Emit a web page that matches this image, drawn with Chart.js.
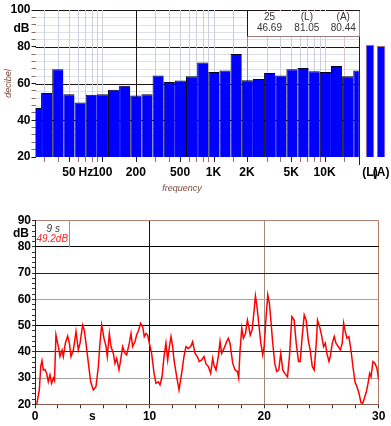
<!DOCTYPE html>
<html><head><meta charset="utf-8">
<script src="https://cdn.jsdelivr.net/npm/chart.js@4/dist/chart.umd.min.js"></script>
<style>
html,body{margin:0;padding:0;background:#fff;width:391px;height:426px;overflow:hidden}
#c1{position:absolute;left:0;top:0}
#c2{position:absolute;left:0;top:200px}
</style></head><body>
<canvas id="c1" width="391" height="200"></canvas>
<canvas id="c2" width="391" height="226"></canvas>
<script>
// ---------- data: 1/3 octave spectrum ----------
const bandLabels = ['25','31.5','40','50','63','80','100','125','160','200','250','315','400','500','630','800','1K','1.25K','1.6K','2K','2.5K','3.15K','4K','5K','6.3K','8K','10K','12.5K','16K','20K'];
const bandLevels = [46.69,54.8,67.8,54.1,49.7,53.9,54.1,56.6,58.8,53.5,54.1,64.4,60.8,61.7,64.0,71.4,66.2,67.1,76.0,61.8,62.4,65.7,64.4,67.8,68.4,66.7,66.2,69.5,63.9,67.1];
const totalLabels = ['(L)','(A)'];
const totalLevels = [81.05, 80.44];
const freqAxisLabels = ['50','Hz','100','200','500','1K','2K','5K','10K'];
const freqAxisValues = [50, 71, 100, 200, 500, 1000, 2000, 5000, 10000];
const gridFreqs = [30,40,50,60,70,80,90,100,200,300,400,500,600,700,800,900,1000,1500,2000,3000,4000,5000,6000,7000,8000,9000,10000,15000];
const cursorInfo = {band:'25', value:'46.69', L:'81.05', A:'80.44'};

// ---------- data: level vs time ----------
const timeSec = [0.15,0.38,0.5,0.61,0.73,0.87,1.02,1.16,1.31,1.45,1.6,1.7,1.83,2.04,2.18,2.36,2.47,2.65,2.85,3.0,3.14,3.35,3.58,3.78,3.93,4.16,4.3,4.45,4.66,4.86,5.09,5.32,5.53,5.67,5.82,6.02,6.2,6.31,6.49,6.63,6.84,6.98,7.13,7.33,7.48,7.65,7.86,8.0,8.23,8.38,8.52,8.73,8.87,9.05,9.22,9.4,9.54,9.69,9.83,9.98,10.18,10.39,10.56,10.77,10.91,11.09,11.26,11.43,11.58,11.73,11.87,12.02,12.13,12.37,12.57,12.8,13.0,13.18,13.38,13.59,13.76,13.97,14.17,14.34,14.55,14.75,14.93,15.13,15.33,15.51,15.62,15.8,16.0,16.15,16.29,16.5,16.73,16.88,17.02,17.26,17.46,17.67,17.78,17.9,18.05,18.19,18.37,18.54,18.66,18.78,18.95,19.13,19.24,19.36,19.53,19.71,19.88,20.0,20.17,20.32,20.46,20.61,20.75,20.93,21.1,21.28,21.45,21.63,21.8,22.04,22.21,22.42,22.62,22.8,23.0,23.15,23.32,23.5,23.67,23.85,24.02,24.2,24.37,24.55,24.66,24.84,25.01,25.19,25.34,25.48,25.66,25.77,25.95,26.12,26.27,26.47,26.65,26.82,26.94,27.08,27.23,27.4,27.58,27.75,27.93,28.1,28.28,28.45,28.6,28.75,28.92,29.07,29.21,29.33,29.5,29.68,29.85,30.0];
const levelDb = [20,25.5,34.4,36.6,33.1,33.3,31.8,28.6,31.2,28,30,29,46.4,42,38.2,40.7,38.2,43.3,46,43.3,38.2,40.7,47.7,40.7,43.3,50.2,48.3,43.3,35.6,28.6,25.5,26.7,34.4,43.3,50.2,45.2,42,38.2,47,42,39.4,35.6,37.5,33.1,36.9,42,39.4,38.8,43.3,47,42,43.9,46.4,48.3,50.9,49.6,45.8,47,46.4,43.3,39.4,31.8,28,28.6,27.4,30.5,38.2,43.3,36.9,42,45.8,42,36.9,30.5,25.5,31.8,38.2,42,41.3,42,43.9,39.4,38.2,36.3,36.9,38.2,35.4,34.4,31.8,37.5,35,33.1,38.2,43.9,39.4,41.3,43.9,45.2,43.3,35.6,33.1,32.5,30,40.7,49,45.2,47,52.1,49.6,46.4,48.3,56,61.3,57.9,50.9,43.3,38.8,42,53.4,61.7,58.5,50.9,43.3,35.6,32.5,33.1,39.4,33.1,31.8,30.5,38.2,53.4,52.1,43.3,36.3,36.3,45.8,54.1,52.1,44.5,40.7,34.4,33.1,43.3,52.1,49.6,46.4,42,43.3,39.4,36.3,38.2,43.3,45.8,43.3,42,40.7,43.3,50.9,47.7,45.2,45.8,40.7,34.4,28.6,26.7,24.2,20.6,20.4,22.3,24.8,28,31.8,30.5,36.3,35.6,33.7,29.3];
const timeTicks = [0,2,4,5,6,8,10,12,14,16,18,20,22,24,26,28,30];
const timeTickLabels = {0:'0',5:'s',10:'10',20:'20',30:'30'};
const cursorTime = {time:'9 s', value:'49.2dB'};

Chart.defaults.font.family = "'Liberation Sans', Arial, sans-serif";
const fToIdx = f => 3 * Math.log2(f / 25);
const px = v => Math.round(v) + 0.5;

// ---------- top chart ----------
const topDecor = {
  id: 'topDecor',
  beforeDatasetsDraw(chart) {
    const {ctx, chartArea: a, scales: {x, y}} = chart;
    const right = px(x.getPixelForValue(bandLevels.length - 1));
    ctx.save();
    ctx.lineWidth = 1;
    for (let v = 24; v <= 100; v += 4) {
      const yy = px(y.getPixelForValue(v));
      ctx.strokeStyle = (v % 20 === 0) ? '#1e1414' : '#dde1e8';
      ctx.beginPath(); ctx.moveTo(a.left, yy); ctx.lineTo(right, yy); ctx.stroke();
    }
    gridFreqs.forEach(f => {
      const xx = px(x.getPixelForValue(fToIdx(f)));
      let c = '#c9d1dc';
      if (f === 200) c = '#1e1414';
      else if (f === 2000) c = '#a88a8a';
      else if (f === 1500 || f === 3000 || f === 15000) c = '#dcc6c6';
      ctx.strokeStyle = c;
      ctx.beginPath(); ctx.moveTo(xx, a.top); ctx.lineTo(xx, a.bottom); ctx.stroke();
    });
    ctx.restore();
  },
  afterDatasetsDraw(chart) {
    const {ctx, chartArea: a, scales: {x, y}} = chart;
    const right = px(x.getPixelForValue(bandLevels.length - 1));
    ctx.save();
    ctx.lineWidth = 1;
    // right plot edge
    ctx.strokeStyle = '#222';
    ctx.beginPath(); ctx.moveTo(right, a.top); ctx.lineTo(right, a.bottom + 8); ctx.stroke();
    // x tick marks
    gridFreqs.forEach(f => {
      const xx = px(x.getPixelForValue(fToIdx(f)));
      ctx.strokeStyle = freqAxisValues.includes(f) ? '#222' : '#a07060';
      ctx.beginPath(); ctx.moveTo(xx, a.bottom); ctx.lineTo(xx, a.bottom + 5); ctx.stroke();
    });
    // info box
    const bl = px(x.getPixelForValue(fToIdx(2000)));
    const bt = a.top;
    const bb = px(y.getPixelForValue(86));
    ctx.fillStyle = '#fff';
    ctx.fillRect(bl, bt + 1, right - bl, bb - bt - 1);
    ctx.strokeStyle = '#9a7a7a';
    ctx.beginPath(); ctx.moveTo(bl, bb); ctx.lineTo(right, bb); ctx.stroke();
    ctx.strokeStyle = '#1e1414';
    ctx.beginPath(); ctx.moveTo(bl, bt); ctx.lineTo(bl, bb); ctx.stroke();
    const w = right - bl;
    ctx.fillStyle = '#333';
    ctx.font = "10px 'Liberation Sans', Arial, sans-serif";
    ctx.textAlign = 'center'; ctx.textBaseline = 'middle';
    const cols = [0.196, 0.53, 0.855];
    const row1 = [cursorInfo.band, totalLabels[0], totalLabels[1]];
    const row2 = [cursorInfo.value, cursorInfo.L, cursorInfo.A];
    cols.forEach((c, i) => {
      ctx.fillText(row1[i], bl + w * c, bt + 7.5);
      ctx.fillText(row2[i], bl + w * c, bt + 18.5);
    });
    // dB label
    ctx.fillStyle = '#000';
    ctx.font = "bold 12px 'Liberation Sans', Arial, sans-serif";
    ctx.textAlign = 'right';
    ctx.fillText('dB', a.left - 6, y.getPixelForValue(90));
    // frequency title
    ctx.fillStyle = '#7a4a3a';
    ctx.font = "italic 9px 'Liberation Sans', Arial, sans-serif";
    ctx.textAlign = 'center';
    ctx.fillText('frequency', x.getPixelForValue(fToIdx(520)), a.bottom + 31);
    ctx.restore();
  }
};

const xLabelPositions = freqAxisValues.map(fToIdx).concat([30, 31]);
const xLabelTexts = freqAxisLabels.concat(totalLabels);

new Chart(document.getElementById('c1'), {
  type: 'bar',
  data: {
    datasets: [{
      data: bandLevels.map((v, i) => ({x: i, y: v})),
      backgroundColor: '#0000ff',
      borderColor: '#000018',
      borderWidth: {top: 1, left: 1, right: 0, bottom: 0},
      borderSkipped: false,
      barPercentage: 1, categoryPercentage: 1,
      inflateAmount: 0,
      clip: {left: 0, top: 0, bottom: 0, right: -(31.5 - (bandLevels.length - 1)) * 11.15}
    }, {
      data: totalLevels.map((v, i) => ({x: 30 + i, y: v})),
      backgroundColor: '#0000ff',
      borderColor: '#a07060',
      borderWidth: 1,
      barThickness: 8.5,
      inflateAmount: 0,
      grouped: false
    }]
  },
  options: {
    responsive: false, animation: false, devicePixelRatio: 1, events: [],
    layout: {padding: {top: 10, right: 4.3, left: 0, bottom: 0}},
    plugins: {legend: {display: false}, tooltip: {enabled: false}},
    scales: {
      x: {
        type: 'linear', min: 0, max: 31.5, offset: false,
        afterBuildTicks: s => { s.ticks = xLabelPositions.map(v => ({value: v})); },
        afterFit: s => { s.height = 43; s.paddingLeft = 0; s.paddingRight = 0; },
        ticks: {autoSkip: false, maxRotation: 0, minRotation: 0, padding: 8, color: '#000',
          font: {size: 12, weight: 'bold'}, callback: (v, i) => xLabelTexts[i]},
        grid: {display: true, drawOnChartArea: false, drawTicks: false},
        border: {display: false}
      },
      y: {
        min: 20, max: 100,
        ticks: {stepSize: 4, autoSkip: false, padding: 1, color: '#000', font: {size: 12, weight: 'bold'},
          callback: v => (v % 20 === 0 ? String(v) : '')},
        grid: {drawOnChartArea: false, drawTicks: true, tickLength: 4,
          tickColor: c => (c.tick && c.tick.value % 20 === 0 ? '#1e1414' : '#8a6a6a')},
        border: {display: false},
        title: {display: true, text: 'decibel', color: '#7a4a3a', font: {size: 9, style: 'italic'}, padding: {top: 3, bottom: 0}},
        afterFit: s => { s.width = 35.5; s.paddingTop = 0; s.paddingBottom = 0; }
      }
    }
  },
  plugins: [topDecor]
});

// ---------- bottom chart ----------
const yGridColors = {90: '#b08070', 80: '#000000', 70: '#2a1a1a', 60: '#aaa0a0', 50: '#000000', 40: '#3a2a2a', 30: '#aaa0a0', 20: '#8a5a4a'};
const xGridColors = {10: '#111111', 20: '#a08878', 30: '#b07860'};

const bottomDecor = {
  id: 'bottomDecor',
  afterDraw(chart) {
    const {ctx, chartArea: a, scales: {x, y}} = chart;
    ctx.save();
    const bl = a.left, br = px(x.getPixelForValue(3));
    const bt = a.top, bb = px(y.getPixelForValue(80));
    ctx.strokeStyle = '#a09090'; ctx.lineWidth = 1;
    ctx.beginPath(); ctx.moveTo(br, bt); ctx.lineTo(br, bb); ctx.stroke();
    const cx = (bl + br) / 2;
    ctx.textAlign = 'center'; ctx.textBaseline = 'middle';
    ctx.font = "italic 10px 'Liberation Sans', Arial, sans-serif";
    ctx.fillStyle = '#333';
    ctx.fillText(cursorTime.time, cx + 1, bt + 8.5);
    ctx.fillStyle = '#ff2020';
    ctx.fillText(cursorTime.value, cx, bt + 18.5);
    ctx.fillStyle = '#000';
    ctx.font = "bold 12px 'Liberation Sans', Arial, sans-serif";
    ctx.textAlign = 'right';
    ctx.fillText('dB', a.left - 6, y.getPixelForValue(85));
    ctx.restore();
  }
};

new Chart(document.getElementById('c2'), {
  type: 'line',
  data: {
    datasets: [{
      data: timeSec.map((t, i) => ({x: t, y: levelDb[i]})),
      borderColor: '#ff0000', borderWidth: 1.5, pointRadius: 0, tension: 0, fill: false
    }]
  },
  options: {
    responsive: false, animation: false, devicePixelRatio: 1, events: [],
    layout: {padding: {top: 20.7, right: 12.3, left: 0, bottom: 0}},
    plugins: {legend: {display: false}, tooltip: {enabled: false}},
    scales: {
      x: {
        type: 'linear', min: 0, max: 30,
        afterBuildTicks: s => { s.ticks = timeTicks.map(v => ({value: v})); },
        afterFit: s => { s.height = 21.7; s.paddingLeft = 0; s.paddingRight = 0; },
        ticks: {autoSkip: false, maxRotation: 0, minRotation: 0, padding: 1, color: '#000',
          font: {size: 12, weight: 'bold'}, callback: v => (timeTickLabels[v] !== undefined ? timeTickLabels[v] : '')},
        grid: {color: c => (c.tick && xGridColors[c.tick.value]) || 'rgba(0,0,0,0)', tickLength: 4,
          tickColor: c => (c.tick && c.tick.value === 5 ? 'rgba(0,0,0,0)' : '#333')},
        border: {display: true, color: '#8a5a4a'}
      },
      y: {
        min: 20, max: 90,
        ticks: {stepSize: 2, autoSkip: false, padding: 1, color: '#000', font: {size: 12, weight: 'bold'},
          callback: v => (v % 10 === 0 ? String(v) : '')},
        grid: {color: c => (c.tick && yGridColors[c.tick.value]) || 'rgba(0,0,0,0)', tickLength: 3,
          tickColor: '#333'},
        border: {display: true, color: '#222'},
        afterFit: s => { s.width = 35; s.paddingTop = 0; s.paddingBottom = 0; }
      }
    }
  },
  plugins: [bottomDecor]
});
</script>
</body></html>
